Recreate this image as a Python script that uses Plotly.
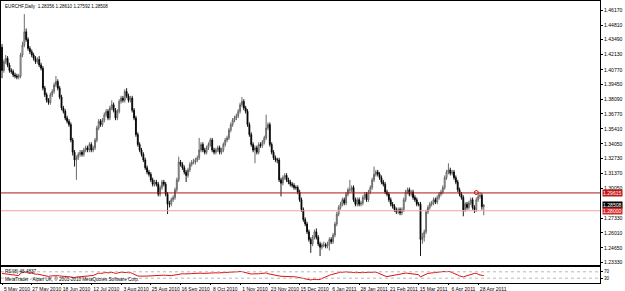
import plotly.graph_objects as go
import pandas as pd

symbol_title = "EURCHF,Daily  1.28356 1.28610 1.27592 1.28508"
rsi_title = "RSI(8) 46.4837"
footer = "MetaTrader - Alpari UK, \u00a9 2001-2010 MetaQuotes Software Corp."

opens = [
    1.428, 1.407, 1.415, 1.418, 1.412, 1.407, 1.406, 1.403, 1.402, 1.401,
    1.402, 1.421, 1.430, 1.442, 1.435, 1.427, 1.424, 1.421, 1.418, 1.415,
    1.417, 1.412, 1.409, 1.391, 1.385, 1.380, 1.378, 1.385, 1.388, 1.394,
    1.397, 1.391, 1.383, 1.373, 1.370, 1.364, 1.361, 1.358, 1.344, 1.333,
    1.326, 1.328, 1.331, 1.333, 1.331, 1.335, 1.337, 1.335, 1.340, 1.335,
    1.337, 1.344, 1.355, 1.361, 1.358, 1.362, 1.367, 1.370, 1.364, 1.373,
    1.376, 1.371, 1.364, 1.370, 1.379, 1.382, 1.380, 1.388, 1.384, 1.380,
    1.382, 1.371, 1.364, 1.349, 1.340, 1.335, 1.331, 1.326, 1.319, 1.315,
    1.313, 1.308, 1.304, 1.306, 1.304, 1.295, 1.301, 1.306, 1.304, 1.295,
    1.286, 1.286, 1.290, 1.292, 1.299, 1.308, 1.324, 1.322, 1.319, 1.315,
    1.312, 1.317, 1.322, 1.324, 1.324, 1.326, 1.328, 1.335, 1.340, 1.335,
    1.333, 1.337, 1.340, 1.344, 1.335, 1.333, 1.335, 1.337, 1.333, 1.335,
    1.340, 1.344, 1.346, 1.353, 1.358, 1.362, 1.364, 1.366, 1.370, 1.376,
    1.379, 1.373, 1.370, 1.358, 1.349, 1.340, 1.335, 1.337, 1.333, 1.340,
    1.339, 1.342, 1.346, 1.355, 1.358, 1.340, 1.333, 1.328, 1.326, 1.326,
    1.308, 1.305, 1.310, 1.312, 1.308, 1.306, 1.304, 1.303, 1.301, 1.301,
    1.297, 1.290, 1.281, 1.272, 1.268, 1.261, 1.254, 1.250, 1.256, 1.261,
    1.256, 1.250, 1.247, 1.249, 1.249, 1.248, 1.250, 1.254, 1.252, 1.258,
    1.268, 1.277, 1.283, 1.286, 1.290, 1.287, 1.295, 1.299, 1.299, 1.301,
    1.290, 1.286, 1.290, 1.286, 1.287, 1.292, 1.295, 1.290, 1.297, 1.301,
    1.308, 1.313, 1.315, 1.313, 1.310, 1.306, 1.304, 1.297, 1.295, 1.290,
    1.286, 1.284, 1.281, 1.279, 1.281, 1.278, 1.281, 1.290, 1.297, 1.299,
    1.295, 1.297, 1.292, 1.290, 1.286, 1.286, 1.254, 1.256, 1.261, 1.279,
    1.283, 1.286, 1.287, 1.290, 1.288, 1.292, 1.295, 1.297, 1.301, 1.310,
    1.315, 1.317, 1.314, 1.315, 1.310, 1.306, 1.299, 1.295, 1.292, 1.281,
    1.286, 1.283, 1.287, 1.290, 1.283, 1.281, 1.290, 1.293, 1.294, 1.2836,
]
highs = [
    1.431, 1.417, 1.421, 1.420, 1.414, 1.409, 1.408, 1.405, 1.404, 1.404,
    1.423, 1.433, 1.458, 1.445, 1.437, 1.429, 1.426, 1.423, 1.420, 1.419,
    1.420, 1.414, 1.411, 1.393, 1.387, 1.382, 1.387, 1.390, 1.396, 1.402,
    1.399, 1.393, 1.385, 1.375, 1.372, 1.366, 1.363, 1.360, 1.346, 1.335,
    1.330, 1.333, 1.335, 1.335, 1.337, 1.339, 1.339, 1.342, 1.342, 1.339,
    1.346, 1.357, 1.363, 1.363, 1.364, 1.369, 1.372, 1.372, 1.375, 1.380,
    1.378, 1.373, 1.372, 1.381, 1.384, 1.384, 1.390, 1.391, 1.386, 1.384,
    1.384, 1.373, 1.366, 1.351, 1.342, 1.337, 1.333, 1.328, 1.321, 1.317,
    1.315, 1.310, 1.308, 1.308, 1.306, 1.303, 1.308, 1.308, 1.306, 1.297,
    1.289, 1.292, 1.294, 1.301, 1.310, 1.329, 1.326, 1.324, 1.321, 1.317,
    1.319, 1.324, 1.326, 1.327, 1.328, 1.330, 1.346, 1.342, 1.342, 1.337,
    1.339, 1.342, 1.346, 1.346, 1.337, 1.337, 1.339, 1.339, 1.337, 1.342,
    1.346, 1.348, 1.355, 1.360, 1.364, 1.366, 1.368, 1.372, 1.378, 1.383,
    1.381, 1.375, 1.372, 1.360, 1.351, 1.342, 1.339, 1.339, 1.342, 1.342,
    1.344, 1.348, 1.367, 1.360, 1.360, 1.342, 1.335, 1.330, 1.328, 1.328,
    1.310, 1.312, 1.314, 1.314, 1.310, 1.308, 1.306, 1.305, 1.303, 1.303,
    1.299, 1.292, 1.283, 1.274, 1.270, 1.263, 1.256, 1.258, 1.263, 1.264,
    1.258, 1.252, 1.251, 1.252, 1.251, 1.252, 1.256, 1.256, 1.260, 1.270,
    1.279, 1.285, 1.288, 1.292, 1.292, 1.297, 1.301, 1.308, 1.303, 1.303,
    1.292, 1.292, 1.292, 1.289, 1.294, 1.297, 1.297, 1.299, 1.303, 1.310,
    1.320, 1.317, 1.317, 1.315, 1.312, 1.308, 1.306, 1.299, 1.297, 1.292,
    1.288, 1.286, 1.283, 1.283, 1.283, 1.283, 1.292, 1.299, 1.301, 1.301,
    1.299, 1.299, 1.294, 1.292, 1.288, 1.288, 1.260, 1.263, 1.281, 1.285,
    1.288, 1.289, 1.292, 1.292, 1.294, 1.297, 1.299, 1.303, 1.312, 1.317,
    1.323, 1.319, 1.317, 1.317, 1.312, 1.308, 1.301, 1.297, 1.294, 1.288,
    1.288, 1.289, 1.292, 1.292, 1.285, 1.292, 1.296, 1.297, 1.296, 1.2861,
]
lows = [
    1.400, 1.405, 1.413, 1.410, 1.405, 1.404, 1.401, 1.400, 1.399, 1.399,
    1.400, 1.419, 1.428, 1.433, 1.425, 1.422, 1.419, 1.416, 1.413, 1.413,
    1.410, 1.407, 1.389, 1.383, 1.378, 1.376, 1.376, 1.383, 1.386, 1.392,
    1.389, 1.381, 1.371, 1.368, 1.362, 1.359, 1.356, 1.342, 1.330, 1.320,
    1.308, 1.326, 1.329, 1.329, 1.329, 1.333, 1.333, 1.333, 1.333, 1.333,
    1.335, 1.342, 1.353, 1.356, 1.356, 1.360, 1.365, 1.362, 1.362, 1.371,
    1.369, 1.362, 1.362, 1.368, 1.377, 1.378, 1.378, 1.382, 1.378, 1.378,
    1.369, 1.362, 1.347, 1.338, 1.333, 1.329, 1.324, 1.317, 1.313, 1.311,
    1.306, 1.302, 1.302, 1.302, 1.293, 1.293, 1.299, 1.302, 1.293, 1.277,
    1.283, 1.284, 1.288, 1.290, 1.297, 1.306, 1.320, 1.317, 1.313, 1.306,
    1.310, 1.315, 1.320, 1.322, 1.322, 1.324, 1.326, 1.333, 1.333, 1.331,
    1.331, 1.335, 1.338, 1.333, 1.331, 1.331, 1.333, 1.331, 1.331, 1.333,
    1.338, 1.342, 1.344, 1.351, 1.356, 1.360, 1.362, 1.364, 1.368, 1.374,
    1.371, 1.368, 1.356, 1.347, 1.338, 1.333, 1.323, 1.331, 1.331, 1.337,
    1.337, 1.340, 1.344, 1.353, 1.338, 1.331, 1.326, 1.324, 1.323, 1.306,
    1.293, 1.303, 1.308, 1.306, 1.304, 1.302, 1.301, 1.299, 1.299, 1.295,
    1.288, 1.279, 1.270, 1.266, 1.259, 1.252, 1.242, 1.248, 1.254, 1.254,
    1.248, 1.239, 1.245, 1.247, 1.246, 1.246, 1.244, 1.250, 1.250, 1.256,
    1.266, 1.275, 1.281, 1.284, 1.285, 1.285, 1.293, 1.296, 1.297, 1.288,
    1.284, 1.284, 1.284, 1.284, 1.285, 1.290, 1.288, 1.288, 1.295, 1.299,
    1.306, 1.311, 1.311, 1.308, 1.304, 1.302, 1.295, 1.293, 1.288, 1.284,
    1.282, 1.279, 1.277, 1.277, 1.276, 1.276, 1.279, 1.288, 1.295, 1.293,
    1.293, 1.290, 1.288, 1.284, 1.284, 1.239, 1.250, 1.252, 1.259, 1.277,
    1.281, 1.284, 1.285, 1.286, 1.286, 1.290, 1.293, 1.295, 1.299, 1.308,
    1.313, 1.312, 1.312, 1.308, 1.304, 1.297, 1.293, 1.290, 1.275, 1.279,
    1.281, 1.281, 1.285, 1.281, 1.278, 1.279, 1.288, 1.291, 1.281, 1.2759,
]
closes = [
    1.407, 1.415, 1.418, 1.412, 1.407, 1.406, 1.403, 1.402, 1.401, 1.402,
    1.421, 1.430, 1.442, 1.435, 1.427, 1.424, 1.421, 1.418, 1.415, 1.417,
    1.412, 1.409, 1.391, 1.385, 1.380, 1.378, 1.385, 1.388, 1.394, 1.397,
    1.391, 1.383, 1.373, 1.370, 1.364, 1.361, 1.358, 1.344, 1.333, 1.326,
    1.328, 1.331, 1.333, 1.331, 1.335, 1.337, 1.335, 1.340, 1.335, 1.337,
    1.344, 1.355, 1.361, 1.358, 1.362, 1.367, 1.370, 1.364, 1.373, 1.376,
    1.371, 1.364, 1.370, 1.379, 1.382, 1.380, 1.388, 1.384, 1.380, 1.382,
    1.371, 1.364, 1.349, 1.340, 1.335, 1.331, 1.326, 1.319, 1.315, 1.313,
    1.308, 1.304, 1.306, 1.304, 1.295, 1.301, 1.306, 1.304, 1.295, 1.286,
    1.286, 1.290, 1.292, 1.299, 1.308, 1.324, 1.322, 1.319, 1.315, 1.312,
    1.317, 1.322, 1.324, 1.324, 1.326, 1.328, 1.335, 1.340, 1.335, 1.333,
    1.337, 1.340, 1.344, 1.335, 1.333, 1.335, 1.337, 1.333, 1.335, 1.340,
    1.344, 1.346, 1.353, 1.358, 1.362, 1.364, 1.366, 1.370, 1.376, 1.379,
    1.373, 1.370, 1.358, 1.349, 1.340, 1.335, 1.337, 1.333, 1.340, 1.339,
    1.342, 1.346, 1.355, 1.358, 1.340, 1.333, 1.328, 1.326, 1.326, 1.308,
    1.305, 1.310, 1.312, 1.308, 1.306, 1.304, 1.303, 1.301, 1.301, 1.297,
    1.290, 1.281, 1.272, 1.268, 1.261, 1.254, 1.250, 1.256, 1.261, 1.256,
    1.250, 1.247, 1.249, 1.249, 1.248, 1.250, 1.254, 1.252, 1.258, 1.268,
    1.277, 1.283, 1.286, 1.290, 1.287, 1.295, 1.299, 1.299, 1.301, 1.290,
    1.286, 1.290, 1.286, 1.287, 1.292, 1.295, 1.290, 1.297, 1.301, 1.308,
    1.313, 1.315, 1.313, 1.310, 1.306, 1.304, 1.297, 1.295, 1.290, 1.286,
    1.284, 1.281, 1.279, 1.281, 1.278, 1.281, 1.290, 1.297, 1.299, 1.295,
    1.297, 1.292, 1.290, 1.286, 1.286, 1.254, 1.256, 1.261, 1.279, 1.283,
    1.286, 1.287, 1.290, 1.288, 1.292, 1.295, 1.297, 1.301, 1.310, 1.315,
    1.317, 1.314, 1.315, 1.310, 1.306, 1.299, 1.295, 1.292, 1.281, 1.286,
    1.283, 1.287, 1.290, 1.283, 1.281, 1.290, 1.293, 1.294, 1.2836, 1.2851,
]
rsi = [
    60, 58, 56, 55, 53, 50, 48, 46, 45, 46,
    62, 66, 70, 66, 62, 60, 62,
    58, 55, 56, 54, 52, 46, 44,
    42, 41, 44, 45, 47, 48, 46, 44, 42, 41, 40, 40,
    39, 36, 35, 34, 37, 38, 40, 40, 42, 43, 44, 45,
    46, 47, 52, 58, 62,
    60, 62, 64, 66, 63, 65, 67, 64, 60, 62, 66, 68, 66, 68, 66, 64, 65, 60,
    54, 48, 44, 43, 42, 41,
    42, 43, 44, 45, 46, 47, 48, 50, 47, 48, 49, 48, 46, 45, 46, 48, 50, 53, 58,
    60, 58, 57, 56, 57, 58, 59, 60, 61, 62, 63, 62, 60, 61, 62,
    63, 64, 62, 63, 64, 63, 64, 65, 66, 67, 68, 69, 70, 71, 72, 72, 73, 74,
    72, 68, 64, 60, 57, 56, 57, 56, 57, 58, 59, 60, 62, 63,
    58, 55, 53, 50, 48, 45, 44, 42, 42, 43, 42, 41, 40, 40, 39, 38, 36, 34,
    30, 27, 24, 22, 20, 19, 22, 24, 23, 21,
    22, 28, 34, 40, 45, 48, 52,
    56, 60, 64, 66, 68, 67, 69, 70, 68,
    66, 64, 66, 65, 64, 63, 64, 65, 66, 67, 68, 69, 70, 69, 68,
    64, 58, 52, 47, 43, 40, 42,
    44, 46, 48, 52, 56, 58, 57, 60, 62, 61, 60, 58, 57, 56, 55,
    52, 38,
    42, 48, 55,
    60, 62, 63, 64, 66, 67, 68, 70, 71, 72, 73, 72, 70,
    66, 60, 55, 50, 44, 40,
    38, 42, 46, 50, 54, 58, 60,
    60, 54, 50, 48, 46.4837,
]

price_ticks = [1.46170, 1.44810, 1.43490, 1.42130, 1.40770, 1.39450, 1.38090,
               1.36770, 1.35410, 1.34050, 1.32730, 1.31370, 1.30050, 1.27330,
               1.26010, 1.24650, 1.23330]
rsi_levels = [70, 30]
level_dark = 1.29615
level_light = 1.28000
bid_price = 1.28508
signal_bar = 255
signal_price = 1.2965

dates = [d.strftime("%Y-%m-%d") for d in pd.bdate_range("2010-05-05", periods=len(closes))]
tick_dates = dates[::16]
tick_text = [f"{pd.Timestamp(d).day} {pd.Timestamp(d).strftime('%b %Y')}" for d in tick_dates]

FONT = "Liberation Sans"
x_range = [-0.54, 321.5]

fig = go.Figure()
fig.add_trace(go.Candlestick(
    x=dates, open=opens, high=highs, low=lows, close=closes,
    increasing=dict(line=dict(color="#5a5a5a", width=0.9), fillcolor="#ffffff"),
    decreasing=dict(line=dict(color="#000000", width=0.9), fillcolor="#000000"),
    whiskerwidth=0, xaxis="x", yaxis="y", hoverinfo="skip", showlegend=False,
))
fig.add_trace(go.Scatter(
    x=[dates[signal_bar]], y=[signal_price], mode="markers",
    marker=dict(symbol="circle-open", size=4, color="#e00000", line=dict(width=1)),
    xaxis="x", yaxis="y", showlegend=False, hoverinfo="skip",
))
fig.add_trace(go.Scatter(
    x=dates, y=rsi, mode="lines", line=dict(color="#e01010", width=1),
    xaxis="x2", yaxis="y2", showlegend=False, hoverinfo="skip",
))

axis_common = dict(showgrid=False, zeroline=False, showline=True, mirror=True,
                   linecolor="#000000", linewidth=1, automargin=False)

fig.update_layout(
    width=625, height=291,
    margin=dict(l=1, r=25, t=1, b=8, autoexpand=False),
    paper_bgcolor="white", plot_bgcolor="white",
    font=dict(family=FONT, size=5.2, color="#000000"),
    xaxis=dict(domain=[0, 1], anchor="y", type="category", range=x_range,
               showticklabels=False, ticks="", rangeslider=dict(visible=False),
               **axis_common),
    yaxis=dict(domain=[0.0638, 1], anchor="x", range=[1.2309, 1.4699], side="right",
               tickvals=price_ticks, tickformat=".5f", ticks="outside", ticklen=2,
               tickcolor="#000000", tickfont=dict(family=FONT, size=5.1), **axis_common),
    xaxis2=dict(domain=[0, 1], anchor="y2", type="category", range=x_range,
                tickvals=tick_dates, ticktext=tick_text, ticks="outside", ticklen=1,
                tickcolor="#000000", tickangle=0, ticklabelshift=15,
                tickfont=dict(family=FONT, size=5.0), **axis_common),
    yaxis2=dict(domain=[0, 0.0567], anchor="x2", range=[0, 100], side="right",
                tickvals=rsi_levels, ticktext=[str(v) for v in rsi_levels],
                ticks="outside", ticklen=2, tickcolor="#000000",
                tickfont=dict(family=FONT, size=4.5), **axis_common),
)

shapes = [
    dict(type="line", xref="x domain", yref="y", x0=0, x1=1, y0=level_dark, y1=level_dark,
         line=dict(color="#b01818", width=1)),
    dict(type="line", xref="x domain", yref="y", x0=0, x1=1, y0=level_light, y1=level_light,
         line=dict(color="#f2a0a0", width=1)),
]
for lv in rsi_levels:
    shapes.append(dict(type="line", xref="x2 domain", yref="y2", x0=0, x1=1, y0=lv, y1=lv,
                       line=dict(color="#b8b8b8", width=1, dash="dot")))
fig.update_layout(shapes=shapes)

annotations = [
    dict(text=symbol_title, xref="paper", yref="paper", x=0, y=1, xanchor="left", yanchor="top",
         xshift=2, yshift=-1, showarrow=False, font=dict(family=FONT, size=4.6, color="#000000")),
    dict(text=rsi_title, xref="paper", yref="y2 domain", x=0, y=1, xanchor="left", yanchor="top",
         xshift=2, showarrow=False, font=dict(family=FONT, size=4.6, color="#000000")),
    dict(text=footer, xref="paper", yref="y2 domain", x=0, y=0.25, xanchor="left", yanchor="middle",
         xshift=2, showarrow=False, font=dict(family=FONT, size=4.6, color="#000000")),
]
for val, bg in [(level_dark, "#c01818"), (bid_price, "#000000"), (level_light, "#d02828")]:
    annotations.append(dict(text=f"{val:.5f}", xref="paper", yref="y", x=1, y=val,
                            xanchor="left", yanchor="middle", xshift=2, showarrow=False,
                            bgcolor=bg, borderpad=0,
                            font=dict(family=FONT, size=5.1, color="#ffffff")))
fig.update_layout(annotations=annotations)

fig.write_html("out.html")
